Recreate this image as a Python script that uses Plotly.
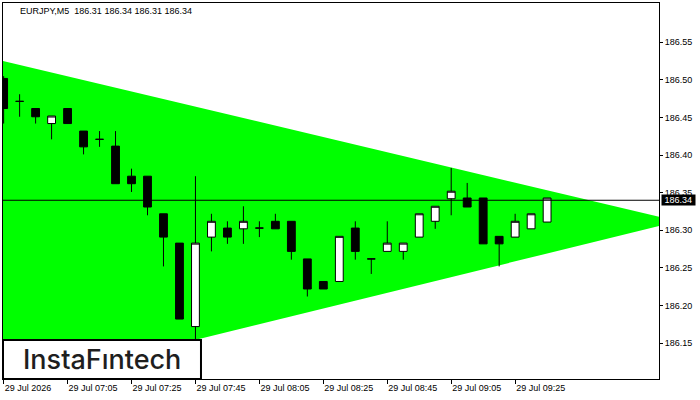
import plotly.graph_objects as go

# ---- data ----
open_ = [186.502, 186.4715, 186.462, 186.442, 186.462, 186.432, 186.421, 186.412, 186.372, 186.372,
         186.322, 186.283, 186.172, 186.291, 186.303, 186.302, 186.303, 186.312, 186.312, 186.262,
         186.232, 186.232, 186.303, 186.262, 186.272, 186.272, 186.291, 186.312, 186.342, 186.343,
         186.343, 186.292, 186.291, 186.302, 186.311]
high_ = [186.505, 186.481, 186.462, 186.452, 186.462, 186.432, 186.432, 186.432, 186.382, 186.372,
         186.322, 186.283, 186.372, 186.322, 186.312, 186.332, 186.312, 186.322, 186.312, 186.262,
         186.232, 186.292, 186.312, 186.262, 186.312, 186.283, 186.322, 186.332, 186.383, 186.363,
         186.343, 186.292, 186.322, 186.322, 186.343]
low_ = [186.442, 186.451, 186.442, 186.421, 186.442, 186.401, 186.411, 186.362, 186.351, 186.320,
        186.252, 186.182, 186.153, 186.272, 186.282, 186.282, 186.291, 186.302, 186.261, 186.212,
        186.222, 186.232, 186.261, 186.242, 186.272, 186.261, 186.291, 186.302, 186.320, 186.331,
        186.282, 186.252, 186.291, 186.302, 186.311]
close_ = [186.462, 186.4715, 186.451, 186.452, 186.442, 186.411, 186.421, 186.362, 186.362, 186.331,
          186.291, 186.182, 186.283, 186.312, 186.291, 186.312, 186.303, 186.302, 186.272, 186.222,
          186.222, 186.292, 186.272, 186.262, 186.283, 186.283, 186.322, 186.332, 186.352, 186.331,
          186.282, 186.282, 186.312, 186.322, 186.343]

tick_pos = [0, 4, 8, 12, 16, 20, 24, 28, 32]
tick_labels = ["29 Jul 2026", "29 Jul 07:05", "29 Jul 07:25", "29 Jul 07:45", "29 Jul 08:05",
               "29 Jul 08:25", "29 Jul 08:45", "29 Jul 09:05", "29 Jul 09:25"]
y_ticks = [186.15, 186.20, 186.25, 186.30, 186.35, 186.40, 186.45, 186.50, 186.55]

# triangle pattern (bar index, price)
tri_x = [-1.0, 42.2, -1.0]
tri_y = [186.530, 186.312, 186.0864]

current_price = 186.34
header = "EURJPY,M5  186.31 186.34 186.31 186.34"

x_idx = list(range(len(open_)))

fig = go.Figure()
fig.add_trace(go.Candlestick(
    x=x_idx, open=open_, high=high_, low=low_, close=close_,
    increasing=dict(line=dict(color="black", width=1), fillcolor="white"),
    decreasing=dict(line=dict(color="black", width=1), fillcolor="black"),
    whiskerwidth=0, showlegend=False))

tri_path = "M " + " L ".join(f"{x},{y}" for x, y in zip(tri_x, tri_y)) + " Z"
fig.add_shape(type="path", path=tri_path, xref="x", yref="y", fillcolor="#00FF00",
              line=dict(width=0), layer="below")

fig.add_shape(type="line", xref="paper", x0=0, x1=1, yref="y", y0=current_price, y1=current_price,
              line=dict(color="black", width=1))

fig.update_layout(
    width=700, height=400,
    margin=dict(l=3, r=41, t=3, b=21),
    paper_bgcolor="white", plot_bgcolor="white",
    showlegend=False,
    xaxis=dict(range=[-0.04, 41.0], tickvals=tick_pos, ticktext=tick_labels,
               ticks="outside", ticklen=4, tickcolor="black",
               ticklabelposition="outside right",
               showgrid=False, zeroline=False, showline=True, mirror=True,
               linecolor="black", linewidth=1, rangeslider=dict(visible=False),
               tickfont=dict(family="Liberation Sans", size=9, color="black")),
    yaxis=dict(range=[186.1023, 186.6023], side="right", tickvals=y_ticks,
               ticktext=[f"{v:.2f}" for v in y_ticks],
               ticks="outside", ticklen=3, tickcolor="black",
               showgrid=False, zeroline=False, showline=True, mirror=True,
               linecolor="black", linewidth=1,
               tickfont=dict(family="Liberation Sans", size=9, color="black")),
)

fig.add_annotation(xref="paper", yref="y", x=1.0, y=current_price, text=" " + f"{current_price:.2f}" + " ",
                   showarrow=False, xanchor="left", yanchor="middle", xshift=2,
                   bgcolor="black", font=dict(family="Liberation Sans", size=9, color="white"),
                   borderpad=0)
fig.add_annotation(xref="paper", yref="paper", x=0.0229, y=0.980, text=header, showarrow=False,
                   xanchor="left", yanchor="middle",
                   font=dict(family="Liberation Sans", size=9, color="black"))

fig.add_shape(type="rect", xref="paper", yref="paper", x0=0, x1=0.3018, y0=0, y1=0.1037,
              line=dict(color="black", width=2), fillcolor="white", layer="above")
fig.add_annotation(xref="paper", yref="paper", x=0.151, y=0.0519, text="InstaFıntech", showarrow=False,
                   xanchor="center", yanchor="middle",
                   font=dict(family="Inter", size=27, color="#1e1e1e", weight=500))

fig.write_html("out.html", config={"displayModeBar": False},
               post_script="document.body.style.margin='0';")
